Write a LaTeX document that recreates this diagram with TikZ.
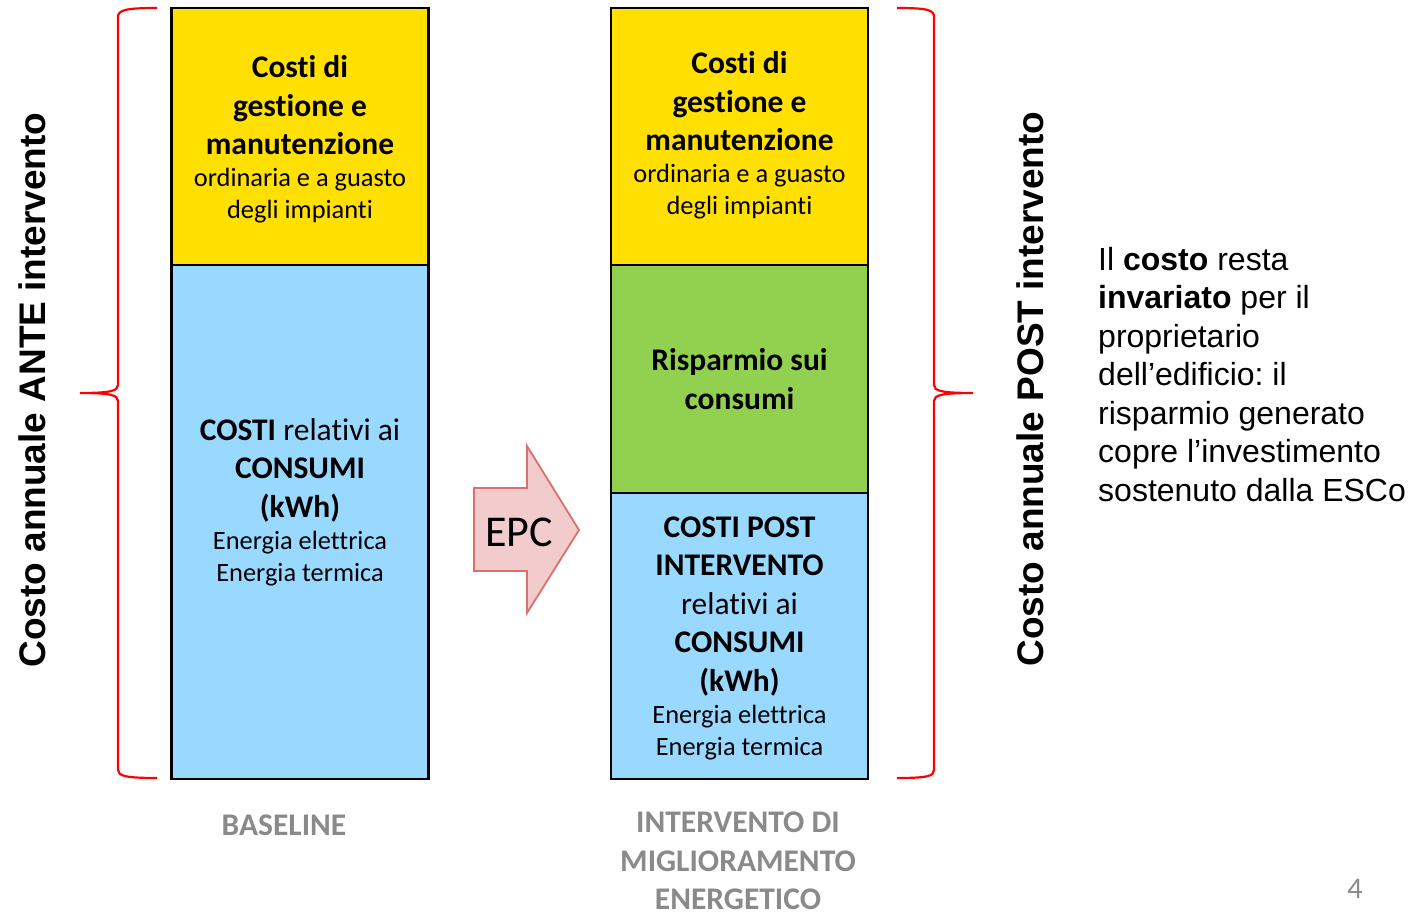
\documentclass[tikz,border=0pt]{standalone}
\usepackage{fontspec}
\setmainfont{Carlito}[Ligatures=NoCommon]
\newfontfamily\arialfont{Liberation Sans}
\newcommand{\lgfnt}{\fontsize{31.5}{38.5}\selectfont}
\newcommand{\smfnt}{\fontsize{26.4}{32}\selectfont}
\definecolor{gestYellow}{HTML}{FFE000}
\definecolor{consBlue}{HTML}{99D9FF}
\definecolor{rispGreen}{HTML}{92D050}
\definecolor{epcFill}{HTML}{F2CCCC}
\definecolor{epcLine}{HTML}{DC6E6E}
\definecolor{labelGray}{HTML}{8A8A8A}
\frenchspacing

\begin{document}
\begin{tikzpicture}
[x=1pt,y=-1pt,%
  costBox/.style={shape=rectangle,draw=black,line width=2.6pt,minimum width=257pt,inner sep=0pt},%
  boxText/.style={text width=250pt,align=flush center,inner sep=0pt},%
  redBrace/.style={draw=red,line width=2.2pt},%
  sideTitle/.style={rotate=90,font=\arialfont\fontsize{37}{44}\selectfont\bfseries},%
  bottomLabel/.style={align=center,inner sep=0pt,text=labelGray,font=\lgfnt\bfseries}]
\useasboundingbox (0,0) rectangle (1416,912);
%% cost boxes
\foreach \boxname/\x/\y/\h/\col in {anteGest/300/136.5/257/gestYellow,
  anteCons/300/522/514/consBlue, postGest/739.5/136.5/257/gestYellow,
  postRisp/739.5/379/228/rispGreen, postCons/739.5/636/286/consBlue}
{
  \node (\boxname) at (\x,\y) [costBox,fill=\col,minimum height=\h] {};
}
%% box texts
\node (anteGestText) at (anteGest.center) [boxText,yshift=-3pt]
  {{\lgfnt\bfseries Costi di\\gestione e\\manutenzione\par}{\smfnt ordinaria e a guasto\\degli impianti\par}};
\node (anteConsText) at (anteCons.center) [boxText,yshift=20pt]
  {{\lgfnt\textbf{COSTI} relativi ai\\\textbf{CONSUMI}\\\textbf{(kWh)}\par}{\smfnt Energia elettrica\\Energia termica\par}};
\node (postGestText) at (postGest.center) [boxText,yshift=1pt]
  {{\lgfnt\bfseries Costi di\\gestione e\\manutenzione\par}{\smfnt ordinaria e a guasto\\degli impianti\par}};
\node (postRispText) at (postRisp.center) [boxText]
  {\lgfnt\bfseries Risparmio sui\\consumi\par};
\node (postConsText) at (postCons.center) [boxText,yshift=-2pt]
  {{\lgfnt\bfseries COSTI POST\\INTERVENTO\par}{\lgfnt relativi ai\par}{\lgfnt\bfseries CONSUMI\\(kWh)\par}{\smfnt Energia elettrica\\Energia termica\par}};
%% EPC arrow
\draw[fill=epcFill,draw=epcLine,line width=1.8pt]
  (474,488) -- (527,488) -- (527,446) -- (579,530) -- (527,613) -- (527,571) -- (474,571) -- cycle;
\node (epc) at (519,532) [font=\fontsize{44}{50}\selectfont] {EPC};
%% braces
\draw[redBrace] (157,8) .. controls (126,8) and (118,10) .. (118,17) -- (118,385)
  .. controls (118,391) and (110,393) .. (80,393)
  .. controls (110,393) and (118,395) .. (118,401) -- (118,770)
  .. controls (118,776) and (126,778) .. (157,778);
\draw[redBrace] (897,8) .. controls (928,8) and (934,10) .. (934,17) -- (934,385)
  .. controls (934,391) and (942,393) .. (973,393)
  .. controls (942,393) and (934,395) .. (934,401) -- (934,770)
  .. controls (934,776) and (928,778) .. (897,778);
%% side titles
\node (anteTitle) at (32,390) [sideTitle] {Costo annuale ANTE intervento};
\node (postTitle) at (1030,389) [sideTitle] {Costo annuale POST intervento};
%% note
\node (note) at (1098,247) [anchor=north west,inner sep=0pt,align=left,
  font=\arialfont\fontsize{32}{38.5}\selectfont]
  {Il \textbf{costo} resta\\\textbf{invariato} per il\\proprietario\\dell’edificio: il\\risparmio generato\\copre l’investimento\\sostenuto dalla ESCo};
%% bottom labels
\node (baseline) at (284,825) [bottomLabel] {BASELINE};
\node (miglioramento) at (738,861) [bottomLabel] {INTERVENTO DI\\MIGLIORAMENTO\\ENERGETICO};
\node (pageNum) at (1355,889) [text=labelGray,font=\fontsize{30}{36}\selectfont] {4};
\end{tikzpicture}
\end{document}
